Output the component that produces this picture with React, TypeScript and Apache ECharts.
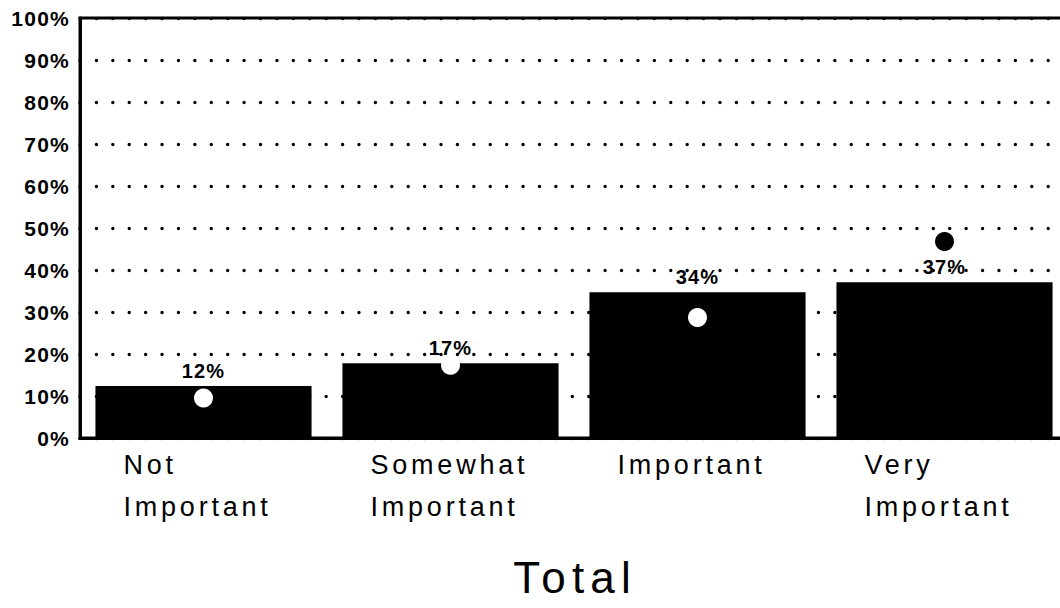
import React, { useEffect, useRef } from 'react';
import * as echarts from 'echarts';

// ---- data ----
const categories = ['Not\nImportant', 'Somewhat\nImportant', 'Important', 'Very\nImportant'];
const barValues = [12.4, 17.8, 34.7, 37.1];
const barLabels = ['12%', '17%', '34%', '37%'];
const markerValues = [9.5, 17.3, 28.7, 46.8];
const yMin = 0;
const yMax = 100;
const yStep = 10;
const titleText = 'Total';

// ---- styles ----
const markerColors = ['#ffffff', '#ffffff', '#ffffff', '#000000'];
const WIDE = "'Liberation Sans', Arial, sans-serif";
const NARROW = "'Liberation Sans', Helvetica, sans-serif";

export default function App() {
  const ref = useRef<HTMLDivElement>(null);

  useEffect(() => {
    if (!ref.current) return;
    const chart = echarts.init(ref.current, undefined, { renderer: 'svg' });
    const option: any = {
      animation: false,
      backgroundColor: '#ffffff',
      title: {
        text: titleText,
        left: 575,
        top: 555,
        padding: 0,
        textAlign: 'center',
        textStyle: { fontFamily: WIDE, fontSize: 44, fontWeight: 'normal', color: '#000' },
      },
      grid: {
        left: 80,
        top: 18,
        width: 988,
        height: 420,
        outerBoundsMode: 'none',
        containLabel: false,
        show: true,
        borderColor: '#000',
        borderWidth: 3,
        backgroundColor: 'transparent',
      },
      xAxis: {
        type: 'category',
        data: categories,
        axisLine: { lineStyle: { color: '#000', width: 3 } },
        axisTick: { show: false },
        axisLabel: {
          interval: 0,
          margin: 6,
          formatter: (v: string) => v.split('\n').map((s) => `{a|${s}}`).join('\n'),
          rich: {
            a: { width: 160, align: 'left', fontSize: 27, lineHeight: 42, fontFamily: WIDE, color: '#000' },
          },
        },
      },
      yAxis: {
        type: 'value',
        min: yMin,
        max: yMax,
        interval: yStep,
        axisLine: { show: true, lineStyle: { color: '#000', width: 3 } },
        axisTick: { show: false },
        axisLabel: {
          formatter: '{value}%',
          margin: 10,
          fontSize: 21,
          fontWeight: 'bold',
          color: '#000',
          fontFamily: NARROW,
        },
        splitLine: {
          lineStyle: { type: [0.01, 16.4], width: 3.4, cap: 'round', color: '#000' },
        },
      },
      series: [
        {
          type: 'bar',
          data: barValues,
          barWidth: '87.5%',
          itemStyle: { color: '#000' },
          label: {
            show: true,
            position: 'top',
            distance: 5,
            formatter: (p: any) => barLabels[p.dataIndex],
            fontSize: 20,
            fontWeight: 'bold',
            color: '#000',
            fontFamily: NARROW,
          },
          z: 2,
        },
        {
          type: 'scatter',
          data: markerValues.map((v, i) => ({ value: v, itemStyle: { color: markerColors[i], opacity: 1 } })),
          symbolSize: 19,
          itemStyle: { opacity: 1 },
          z: 3,
        },
      ],
    };
    chart.setOption(option);
    return () => chart.dispose();
  }, []);

  return (
    <>
      <style>{`
        .chart-box text[style*="Arial"] { letter-spacing: 0.14em; }
        .chart-box text[style*="Helvetica"] { letter-spacing: 0.06em; }
      `}</style>
      <div
        ref={ref}
        className="chart-box"
        style={{ position: 'absolute', left: 0, top: 0, width: 1060, height: 608 }}
      />
    </>
  );
}
